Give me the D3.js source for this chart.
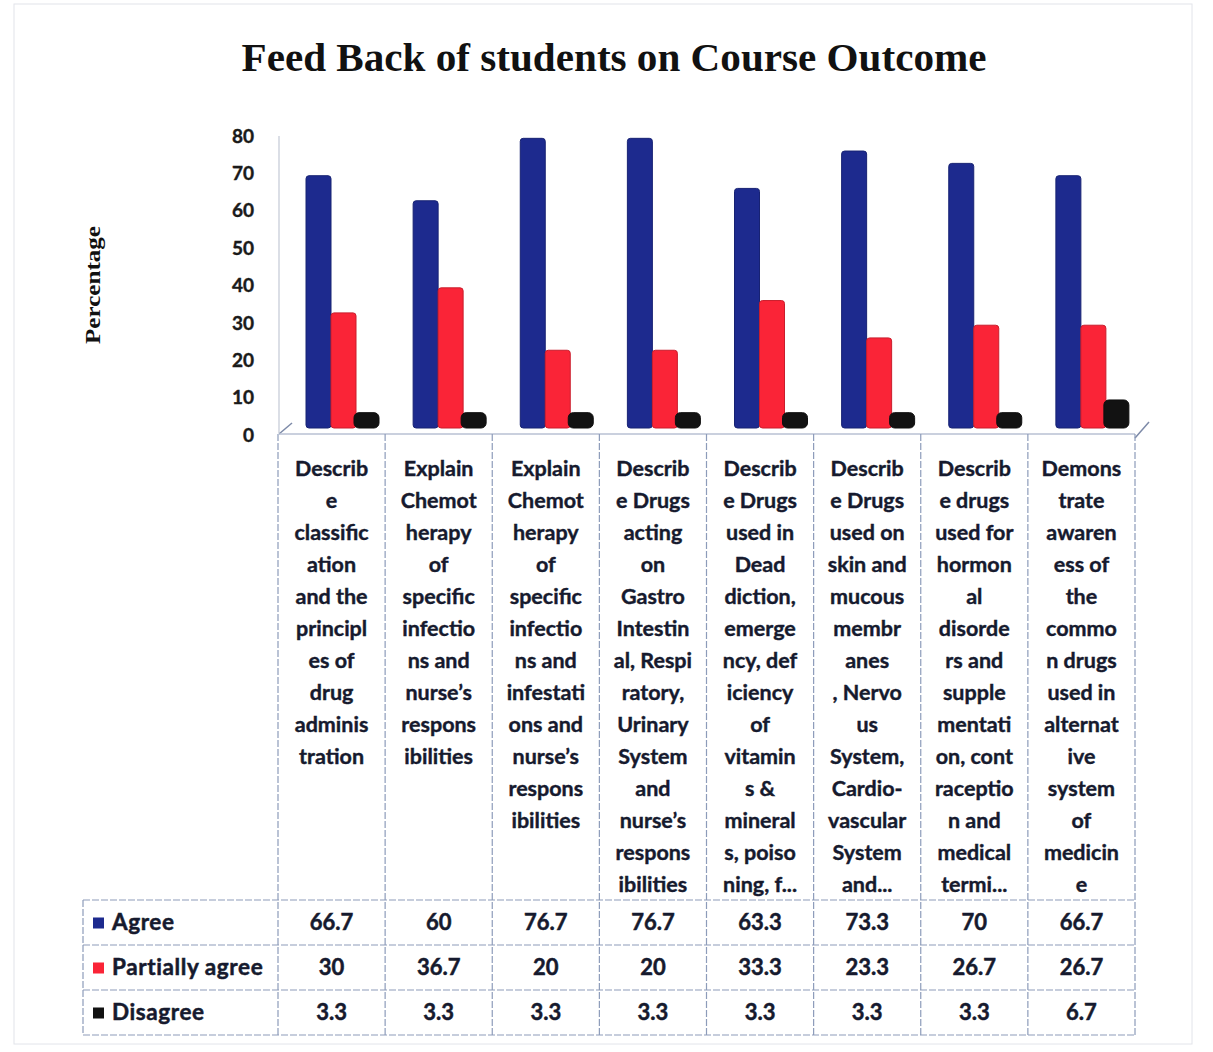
<!DOCTYPE html>
<html>
<head>
<meta charset="utf-8">
<script src="https://cdn.jsdelivr.net/npm/d3@7"></script>
<style>
  body { margin: 0; background: #fff; }
  svg { display: block; }
</style>
</head>
<body>
<div id="chart"></div>
<script>
// chart data
const series = ["Agree", "Partially agree", "Disagree"];
const seriesColors = ["#1d2a8e", "#fa2437", "#121212"];

const agree = [66.7, 60, 76.7, 76.7, 63.3, 73.3, 70, 66.7];
const partiallyAgree = [30, 36.7, 20, 20, 33.3, 23.3, 26.7, 26.7];
const disagree = [3.3, 3.3, 3.3, 3.3, 3.3, 3.3, 3.3, 6.7];

const yTicks = [0, 10, 20, 30, 40, 50, 60, 70, 80];

// category labels, wrapped the way the chart wraps them
const categoryLines = [
    ["Describ", "e", "classific", "ation", "and the", "principl", "es of", "drug", "adminis", "tration"],
    ["Explain", "Chemot", "herapy", "of", "specific", "infectio", "ns and", "nurse\u2019s", "respons", "ibilities"],
    ["Explain", "Chemot", "herapy", "of", "specific", "infectio", "ns and", "infestati", "ons and", "nurse\u2019s", "respons", "ibilities"],
    ["Describ", "e Drugs", "acting", "on", "Gastro", "Intestin", "al, Respi", "ratory,", "Urinary", "System", "and", "nurse\u2019s", "respons", "ibilities"],
    ["Describ", "e Drugs", "used in", "Dead", "diction,", "emerge", "ncy, def", "iciency", "of", "vitamin", "s &", "mineral", "s, poiso", "ning, f..."],
    ["Describ", "e Drugs", "used on", "skin and", "mucous", "membr", "anes", ", Nervo", "us", "System,", "Cardio-", "vascular", "System", "and..."],
    ["Describ", "e drugs", "used for", "hormon", "al", "disorde", "rs and", "supple", "mentati", "on, cont", "raceptio", "n and", "medical", "termi..."],
    ["Demons", "trate", "awaren", "ess of", "the", "commo", "n drugs", "used in", "alternat", "ive", "system", "of", "medicin", "e"]
];

const values = [agree, partiallyAgree, disagree];
const categories = categoryLines.map((l, i) => "c" + i);

const width = 1213, height = 1052;
const sansFont = "Lato, 'Open Sans', sans-serif";
const textColor = "#161a2e";
const gridColor = "#8d9cba";

const svg = d3.select("#chart").append("svg")
    .attr("width", width)
    .attr("height", height);

// faint page border
svg.append("rect")
    .attr("x", 14).attr("y", 4)
    .attr("width", 1178).attr("height", 1040)
    .attr("fill", "none")
    .attr("stroke", "#e2e4ea");

// title
svg.append("text")
    .attr("x", 614)
    .attr("y", 71)
    .attr("text-anchor", "middle")
    .attr("font-family", "'Liberation Serif', 'Times New Roman', serif")
    .attr("font-weight", "bold")
    .attr("font-size", 40)
    .attr("textLength", 745)
    .attr("lengthAdjust", "spacingAndGlyphs")
    .attr("fill", "#111")
    .text("Feed Back of students on Course Outcome");

// y axis title
svg.append("text")
    .attr("transform", "translate(100,285) rotate(-90)")
    .attr("text-anchor", "middle")
    .attr("font-family", "'Liberation Serif', 'Times New Roman', serif")
    .attr("font-weight", "bold")
    .attr("font-size", 22)
    .attr("textLength", 118)
    .attr("lengthAdjust", "spacingAndGlyphs")
    .attr("fill", "#111")
    .text("Percentage");

// scales
const x0 = d3.scaleBand()
    .domain(categories)
    .range([278, 1135]);

const x1 = d3.scaleBand()
    .domain(series)
    .range([16, 91]);

const y = d3.scaleLinear()
    .domain([0, 80])
    .range([435, 136]);

// 3D depth shift of the bars (back wall)
const depthX = 12, depthY = -7;

// y tick labels
svg.append("g")
    .selectAll("text")
    .data(yTicks)
    .join("text")
    .attr("x", 254)
    .attr("y", d => y(d))
    .attr("dy", "0.35em")
    .attr("text-anchor", "end")
    .attr("font-family", sansFont)
    .attr("font-weight", "bold")
    .attr("font-size", 19)
    .attr("fill", "#1a1a1a")
    .attr("stroke", "#1a1a1a")
    .attr("stroke-width", 0.4)
    .text(d => d);

// axis wall line
svg.append("line")
    .attr("x1", 279).attr("x2", 279)
    .attr("y1", y(80)).attr("y2", 433)
    .attr("stroke", "#c3c9d6")
    .attr("stroke-width", 1.2);

// floor edge lines
const floor = svg.append("g").attr("stroke", "#7d8aa8").attr("stroke-width", 1.5).attr("fill", "none");
floor.append("line").attr("x1", 279).attr("y1", 434).attr("x2", 292).attr("y2", 423);
floor.append("line").attr("x1", 1135).attr("y1", 438).attr("x2", 1149).attr("y2", 422);
floor.append("line").attr("x1", 279).attr("y1", 434).attr("x2", 1135).attr("y2", 434).attr("stroke", "#b9c1d3");

// bars
const barGroups = svg.append("g")
    .selectAll("g")
    .data(categories)
    .join("g")
    .attr("transform", d => `translate(${x0(d) + depthX},${depthY})`);

barGroups.selectAll("rect")
    .data((d, i) => series.map((s, k) => ({ s, k, v: values[k][i] })))
    .join("rect")
    .attr("x", d => x1(d.s) - (d.k === 2 ? 2 : 0))
    .attr("y", d => y(d.v) - 3)
    .attr("width", x1.bandwidth())
    .attr("height", d => y(0) - y(d.v) + 3)
    .attr("rx", d => d.k === 2 ? 5 : 3)
    .attr("fill", d => seriesColors[d.k])
    .attr("stroke", d => d3.color(seriesColors[d.k]).darker(0.6))
    .attr("stroke-width", 1);

// data table grid
const rowTop = 900, rowH = 45;
const grid = svg.append("g").attr("stroke", gridColor).attr("stroke-width", 1.2).attr("stroke-dasharray", "7,2");

x0.domain().concat(["end"]).forEach((c, i) => {
    const xx = c === "end" ? x0.range()[1] : x0(c);
    grid.append("line")
        .attr("x1", xx).attr("x2", xx)
        .attr("y1", 434).attr("y2", rowTop + rowH * 3);
});
d3.range(4).forEach(r => {
    grid.append("line")
        .attr("x1", 83).attr("x2", 1135)
        .attr("y1", rowTop + rowH * r).attr("y2", rowTop + rowH * r);
});
grid.append("line")
    .attr("x1", 83).attr("x2", 83)
    .attr("y1", rowTop).attr("y2", rowTop + rowH * 3);

// category labels
const lineH = 32;
svg.append("g")
    .selectAll("text")
    .data(categoryLines)
    .join("text")
    .attr("text-anchor", "middle")
    .attr("font-family", sansFont)
    .attr("font-weight", "bold")
    .attr("font-size", 21.5)
    .attr("fill", textColor)
    .attr("stroke", textColor)
    .attr("stroke-width", 0.4)
    .each(function (lines, i) {
        d3.select(this).selectAll("tspan")
            .data(lines)
            .join("tspan")
            .attr("x", x0(categories[i]) + x0.bandwidth() / 2)
            .attr("y", (d, j) => 476 + j * lineH)
            .text(d => d);
    });

// legend column
const legend = svg.append("g")
    .selectAll("g")
    .data(series)
    .join("g")
    .attr("transform", (d, k) => `translate(93,${rowTop + rowH * k + rowH / 2})`);

legend.append("rect")
    .attr("x", 0).attr("y", -5)
    .attr("width", 11).attr("height", 11)
    .attr("fill", (d, k) => seriesColors[k]);

legend.append("text")
    .attr("x", 19)
    .attr("dy", "0.35em")
    .attr("font-family", sansFont)
    .attr("font-weight", "bold")
    .attr("font-size", 22.5)
    .attr("letter-spacing", 0.6)
    .attr("fill", textColor)
    .attr("stroke", textColor)
    .attr("stroke-width", 0.5)
    .text(d => d);

// table values
series.forEach((s, k) => {
    svg.append("g")
        .selectAll("text")
        .data(values[k])
        .join("text")
        .attr("x", (d, i) => x0(categories[i]) + x0.bandwidth() / 2)
        .attr("y", rowTop + rowH * k + rowH / 2)
        .attr("dy", "0.35em")
        .attr("text-anchor", "middle")
        .attr("font-family", sansFont)
        .attr("font-weight", "bold")
        .attr("font-size", 22)
        .attr("fill", textColor)
        .attr("stroke", textColor)
        .attr("stroke-width", 0.5)
        .text(d => d);
});
</script>
</body>
</html>
